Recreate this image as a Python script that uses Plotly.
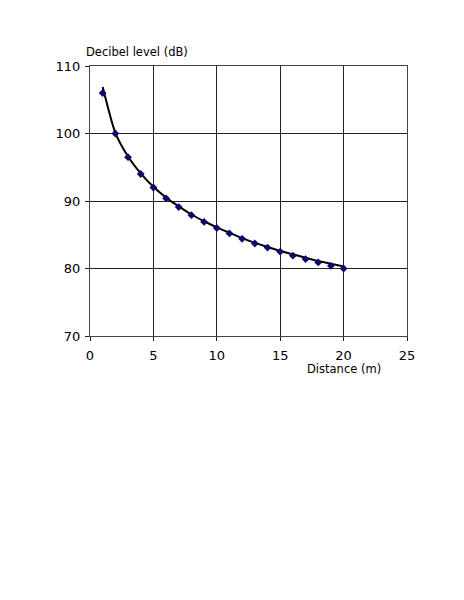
import plotly.graph_objects as go

distance = list(range(1, 21))
decibels = [106, 100, 96.5, 94, 92, 90.4, 89.1, 87.9, 86.9, 86, 85.2, 84.4, 83.7, 83.1, 82.5, 81.9, 81.4, 80.9, 80.4, 80]
trend = [106.9, 100.1, 96.6, 94.1, 92.1, 90.5, 89.2, 88.0, 87.0, 86.1, 85.3, 84.5, 83.8, 83.2, 82.6, 82.1, 81.6, 81.1, 80.7, 80.3]
x_ticks = [0, 5, 10, 15, 20, 25]
y_ticks = [70, 80, 90, 100, 110]

FONT = "DejaVu Sans, Liberation Sans, Arial"

fig = go.Figure()
fig.add_trace(go.Scatter(x=distance, y=trend, mode="lines", line=dict(color="black", width=2, shape="spline", smoothing=0.6), showlegend=False))
fig.add_trace(go.Scatter(x=distance, y=decibels, mode="markers",
                         marker=dict(symbol="diamond", size=6, color="#0a0a6e"), showlegend=False))

axis_common = dict(showgrid=True, gridcolor="#222222", gridwidth=1.3, showline=True, linecolor="#444444",
                   linewidth=1.3, mirror=True, ticks="outside", ticklen=4, tickcolor="#222222", zeroline=False,
                   tickfont=dict(family=FONT, size=13, color="black"))
fig.update_xaxes(range=[0, 25], tickvals=x_ticks, ticklabelstandoff=3, **axis_common)
fig.update_yaxes(range=[70, 110], tickvals=y_ticks, ticklabelstandoff=2, **axis_common)

fig.add_annotation(text="Decibel level (dB)", xref="paper", yref="paper", x=-0.018, y=1.02, xanchor="left", yanchor="bottom",
                   showarrow=False, font=dict(family=FONT, size=11.5, color="black"))
fig.add_annotation(text="Distance (m)", xref="paper", yref="paper", x=0.925, y=-0.09, xanchor="right", yanchor="top",
                   showarrow=False, font=dict(family=FONT, size=11.5, color="black"))

fig.update_layout(width=464, height=600, margin=dict(l=82, r=65, t=58, b=272),
                  paper_bgcolor="white", plot_bgcolor="white")
fig.write_html("out.html")
